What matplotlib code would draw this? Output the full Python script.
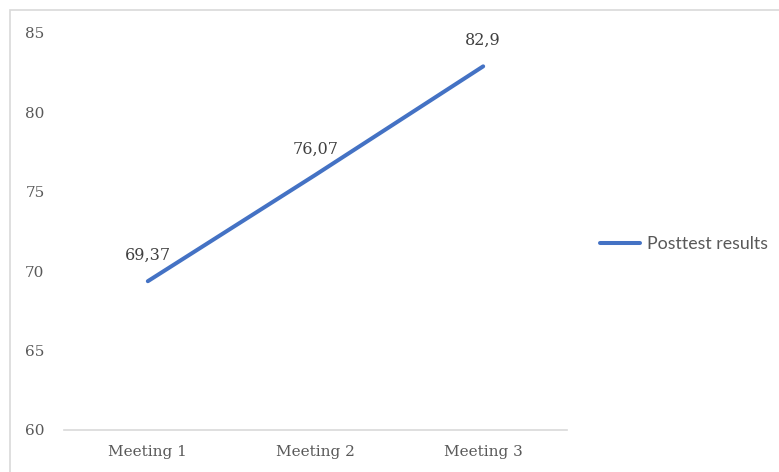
import matplotlib
matplotlib.use("Agg")
import matplotlib.pyplot as plt
from matplotlib.patches import Rectangle

# data
meetings = ["Meeting 1", "Meeting 2", "Meeting 3"]
scores = [69.37, 76.07, 82.9]
score_labels = ["69,37", "76,07", "82,9"]
yticks = [60, 65, 70, 75, 80, 85]

W, H = 779, 472
fig = plt.figure(figsize=(W / 100, H / 100), dpi=100)
ax = fig.add_axes([64 / W, 1 - 430 / H, (567 - 64) / W, (430 - 33) / H])

# chart border (cropped on right/bottom)
fig.patches.append(Rectangle((10 / W, -0.05), 1.2, 1 - 10 / H + 0.05,
                             transform=fig.transFigure, fill=False,
                             edgecolor="#D9D9D9", linewidth=1.2))

x = range(len(meetings))
line, = ax.plot(x, scores, color="#4472C4", linewidth=2.9,
                solid_capstyle="round", label="Posttest results")

serif = "DejaVu Serif"
for xi, v, lab in zip(x, scores, score_labels):
    ax.annotate(lab, (xi, v), xytext=(0, 18.5), textcoords="offset points",
                ha="center", va="center", fontsize=11.5, color="#404040",
                family=serif)

ax.set_xlim(-0.5, 2.5)
ax.set_ylim(60, 85)
ax.set_xticks(list(x))
ax.set_xticklabels(meetings, family=serif, fontsize=11, color="#595959")
ax.set_yticks(yticks)
ax.set_yticklabels([str(t) for t in yticks], family=serif, fontsize=11,
                   color="#595959")
ax.tick_params(axis="y", length=0, pad=14)
ax.tick_params(axis="x", length=0, pad=11)

for s in ["top", "right", "left"]:
    ax.spines[s].set_visible(False)
ax.spines["bottom"].set_color("#D9D9D9")
ax.spines["bottom"].set_linewidth(1.2)

leg = fig.legend(handles=[line], loc="center left",
                 bbox_to_anchor=(600 / W, 1 - 244 / H), frameon=False,
                 borderpad=0, borderaxespad=0,
                 handlelength=2.25, handletextpad=0.4,
                 prop={"family": "Lato", "size": 12.8})
for t in leg.get_texts():
    t.set_color("#595959")

fig.savefig("out.png", dpi=100)
